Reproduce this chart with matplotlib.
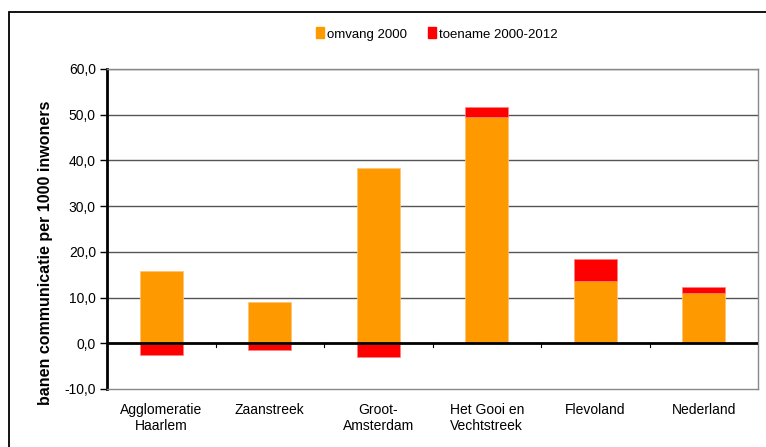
import numpy as np
import matplotlib.pyplot as plt
from matplotlib.patches import Rectangle, Patch

plt.rcParams['font.family'] = ['Liberation Sans', 'DejaVu Sans']

# data
regio = ['Agglomeratie\nHaarlem', 'Zaanstreek', 'Groot-\nAmsterdam',
         'Het Gooi en\nVechtstreek', 'Flevoland', 'Nederland']
omvang_2000 = [15.9, 9.1, 38.3, 49.6, 13.6, 10.9]
toename = [-2.5, -1.5, -3.1, 2.0, 4.9, 1.4]
yticks = [-10, 0, 10, 20, 30, 40, 50, 60]

oranje = '#ff9900'
rood = '#ff0000'

W, H = 766, 447
fig = plt.figure(figsize=(W / 100, H / 100), dpi=100)

# outer chart frame (runs off right and bottom edge)
frame = Rectangle((9 / W, -0.05), 1.1, (H - 12) / H + 0.05, transform=fig.transFigure,
                  fill=False, edgecolor='black', linewidth=1.3, clip_on=False)
fig.add_artist(frame)

ax = fig.add_axes([107 / W, 1 - 389 / H, (758 - 107) / W, (389 - 69) / H])

x = np.arange(len(regio))
# negative growth goes below zero, positive growth stacks on top
top_basis = [o if t >= 0 else 0 for o, t in zip(omvang_2000, toename)]
ax.bar(x, omvang_2000, width=0.4, color=oranje, edgecolor='#ffc27a', linewidth=0.5,
       zorder=3, label='omvang 2000')
ax.bar(x, toename, width=0.4, bottom=top_basis, color=rood, edgecolor='#ff8080',
       linewidth=0.5, zorder=3, label='toename 2000-2012')

ax.set_xlim(-0.5, len(regio) - 0.5)
ax.set_ylim(-10, 60)
ax.set_yticks(yticks)
ax.set_yticklabels([f'{v:.1f}'.replace('.', ',') for v in yticks], fontsize=10)
for v in yticks[2:]:
    ax.axhline(v, color='#555555', linewidth=1.0, zorder=1)
ax.axhline(0, color='black', linewidth=2.0, zorder=4)

# category labels below the plot box, tick marks on the zero line
ax.set_xticks([])
for i, lab in enumerate(regio):
    ax.text(i, -13.0, lab, ha='center', va='top', fontsize=10,
            linespacing=1.2)
for b in np.arange(0.5, len(regio) - 0.5):
    ax.plot([b, b], [0, -0.9], color='black', linewidth=0.8, zorder=4, clip_on=False)

for s in ['top', 'right', 'bottom']:
    ax.spines[s].set_color('#888888')
    ax.spines[s].set_linewidth(1.0)
ax.spines['left'].set_color('black')
ax.spines['left'].set_linewidth(2.0)
ax.tick_params(axis='y', length=5, width=1, pad=3)

ax.set_ylabel('banen communicatie per 1000 inwoners', fontsize=11.5,
              fontweight='bold')
ax.yaxis.set_label_coords(-0.083, 0.425)

handles = [Patch(color=oranje), Patch(color=rood)]
fig.legend(handles, ['omvang 2000', 'toename 2000-2012'], loc='center',
           bbox_to_anchor=(437 / W, 1 - 34 / H), ncol=2, frameon=False, fontsize=9.5,
           handlelength=0.6, handleheight=0.9, handletextpad=0.25, columnspacing=1.6)

fig.savefig('out.png', dpi=100)
